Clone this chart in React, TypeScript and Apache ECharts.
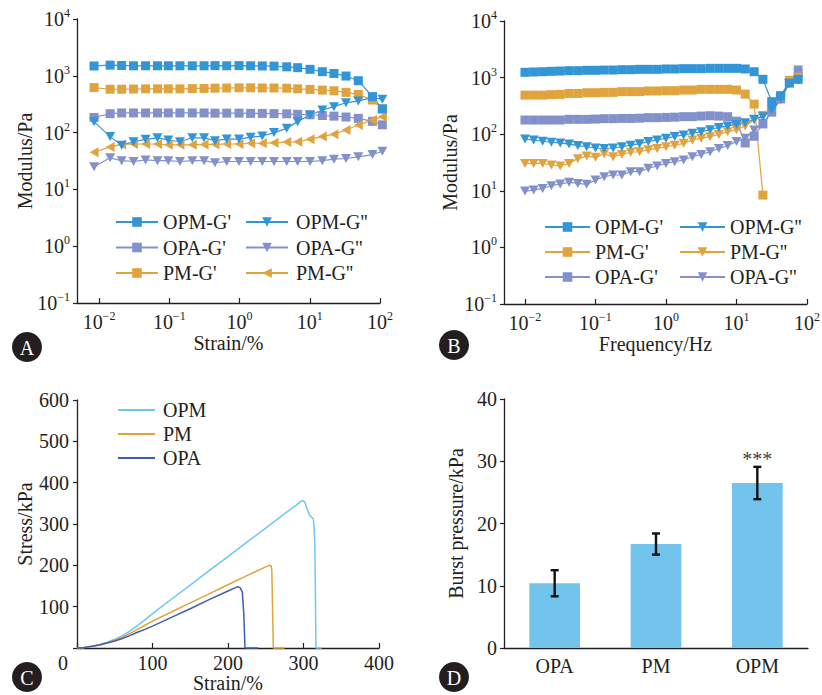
import { useEffect, useRef } from 'react';
import * as echarts from 'echarts';

const FONT = "'Liberation Serif', 'Times New Roman', serif";
const INK = '#231f20';
const C_OPM = '#3195d6';
const C_OPA = '#8391cb';
const C_PM = '#e1a33d';

// ---------- Panel A: strain sweep ----------
const A_STRAIN = [0.0085, 0.0144, 0.021, 0.031, 0.046, 0.068, 0.097, 0.142, 0.213, 0.313, 0.448, 0.658, 0.984, 1.44, 2.11, 3.1, 4.7, 6.73, 10.1, 15.1, 22.1, 32.8, 49.1, 78, 108];
const A_OPM_G1 = [1490, 1540, 1520, 1500, 1500, 1500, 1500, 1500, 1500, 1500, 1510, 1500, 1510, 1500, 1490, 1480, 1440, 1390, 1300, 1180, 1100, 990, 820, 430, 262];
const A_OPM_G2 = [156, 85, 60, 69, 76, 81, 74, 69, 81, 81, 72, 77, 77, 83, 87, 100, 119, 156, 204, 250, 286, 336, 359, 418, 385];
const A_OPA_G1 = [185, 215, 222, 222, 222, 222, 222, 222, 222, 222, 220, 220, 220, 218, 218, 216, 214, 210, 206, 200, 195, 188, 178, 158, 137];
const A_OPA_G2 = [25, 36, 32, 31, 33, 32, 32, 31, 32, 32, 29.5, 31, 31, 31, 31, 31, 31, 31, 31, 32, 34, 35, 37.5, 41, 47];
const A_PM_G1 = [620, 580, 580, 585, 590, 590, 590, 590, 595, 600, 605, 610, 615, 615, 610, 610, 605, 590, 575, 560, 545, 510, 470, 375, 260];
const A_PM_G2 = [45, 56, 62, 63, 63, 63, 61, 61, 61, 62, 62, 63, 63, 65, 65, 66, 68, 69, 76, 85, 94, 111, 136, 166, 190];

// ---------- Panel B: frequency sweep ----------
const B_FREQ = [0.01, 0.0133, 0.0178, 0.0237, 0.0316, 0.0422, 0.0562, 0.075, 0.1, 0.133, 0.178, 0.237, 0.316, 0.422, 0.562, 0.75, 1, 1.33, 1.78, 2.37, 3.16, 4.22, 5.62, 7.5, 10, 13.3, 17.8, 23.7, 31.6, 42.2, 56.2, 75];
const B_OPM_G1 = [1240, 1256, 1270, 1290, 1305, 1325, 1325, 1345, 1345, 1360, 1360, 1380, 1380, 1400, 1400, 1400, 1420, 1420, 1438, 1438, 1438, 1458, 1458, 1458, 1458, 1420, 1270, 932, 375, 480, 800, 930];
const B_OPM_G2 = [82, 79, 75, 72, 70, 67, 63, 60, 57, 56, 57, 60, 64, 68, 74, 79, 85, 91, 97, 104, 111, 120, 132, 140, 149, 160, 183, 204, 270, 430, 790, 900];
const B_PM_G1 = [490, 490, 490, 500, 505, 525, 525, 540, 540, 548, 548, 565, 565, 565, 580, 580, 587, 587, 603, 603, 620, 620, 620, 620, 603, 510, 340, 8.4];
const B_PM_G2 = [30.5, 30.5, 30.5, 28.6, 27.4, 30.5, 37, 41, 39, 45, 40, 44, 48, 49, 53, 56, 60, 64, 69, 79, 85, 90, 99, 111, 120, 140, 178, 215, 315, 460, 900, 1010];
const B_OPA_G1 = [178, 178, 178, 178, 178, 183, 183, 183, 185, 188, 188, 190, 190, 192, 196, 196, 198, 200, 204, 204, 209, 212, 209, 204, 170, 70, 92, 152, 245, 420, 830, 1250];
const B_OPA_G2 = [9.9, 10.3, 11, 12.3, 13.2, 14.1, 13.5, 13, 15.5, 17.8, 19, 19, 21.8, 21.8, 25, 27.4, 30.5, 32.7, 35, 40, 44, 49, 56, 63, 74, 85, 119, 156, 250, 402, 800, 1360];

// ---------- Panel C: stress-strain ----------
const OPM_STRAIN = [0, 10, 20, 30, 40, 50, 60, 70, 80, 90, 100, 125, 150, 175, 200, 225, 250, 275, 290, 296, 299, 302, 305, 308, 311, 313, 314, 315, 315.7, 316.5, 324];
const OPM_STRESS = [0, 1.5, 4.5, 8.5, 14, 21, 30, 41, 54, 68, 83, 118, 152, 187, 221, 256, 290, 325, 345, 354, 357, 352, 335, 322, 316, 312, 295, 250, 148, 0, 0];
const PM_STRAIN = [0, 10, 20, 30, 40, 50, 60, 70, 80, 90, 100, 125, 150, 175, 200, 225, 245, 252, 255, 257, 258, 259, 260, 275];
const PM_STRESS = [0, 1.5, 4.5, 8, 13, 19, 26, 35, 45, 55, 65, 87, 109, 131, 153, 175, 192, 198, 200, 199, 190, 100, 0, 0];
const OPA_STRAIN = [0, 10, 20, 30, 40, 50, 60, 70, 80, 90, 100, 125, 150, 175, 200, 210, 213, 216, 219, 221, 222.5, 240];
const OPA_STRESS = [0, 1.5, 4, 7.5, 12, 17, 23, 30, 38, 45, 53, 74, 95, 117, 138, 146, 148, 146, 135, 80, 0, 0];

// ---------- Panel D: burst pressure ----------
const GROUPS = ['OPA', 'PM', 'OPM'];
const BURST = [10.4, 16.7, 26.5];
const BURST_ERR = [2.1, 1.7, 2.6];
const SIG = ['', '', '***'];

const SQ = 'rect';
const TRI_DOWN = 'path://M0,0L10,0L5,9Z';
const TRI_LEFT = 'path://M9,0L9,10L0,5Z';

const supLabel = (v: number) => {
  const e = Math.round(Math.log10(v));
  return `{b|10}{s|${e < 0 ? '\u2212' + Math.abs(e) : e}}`;
};
const supRich = {
  b: { fontFamily: FONT, fontSize: 20, color: INK, lineHeight: 24 },
  s: { fontFamily: FONT, fontSize: 12, color: INK, verticalAlign: 'top', lineHeight: 14 },
};

const axisLine = { show: true, onZero: false, lineStyle: { color: INK, width: 1.3 } };
const label = { color: INK, fontFamily: FONT, fontSize: 20 };
const nameStyle = { color: INK, fontFamily: FONT, fontSize: 20 };

function modSeries(name: string, xs: number[], ys: number[], color: string, symbol: string, size: any, idx: number) {
  return {
    type: 'line',
    name,
    xAxisIndex: idx,
    yAxisIndex: idx,
    data: ys.map((y, i) => [xs[i], y]),
    symbol,
    symbolSize: size,
    showSymbol: true,
    lineStyle: { color, width: 1.2 },
    itemStyle: { color },
    clip: false,
    emphasis: { disabled: true },
  };
}

function curve(name: string, xs: number[], ys: number[], color: string) {
  return {
    type: 'line',
    name,
    xAxisIndex: 2,
    yAxisIndex: 2,
    data: xs.map((x, i) => [x, ys[i]]),
    symbol: 'none',
    lineStyle: { color, width: 1.5 },
    itemStyle: { color },
    clip: false,
    emphasis: { disabled: true },
  };
}

const legendText = { fontFamily: FONT, fontSize: 20, color: INK };

function badge(cx: number, cy: number, t: string) {
  return [
    { type: 'circle', shape: { cx, cy, r: 15 }, style: { fill: INK } },
    { type: 'text', x: cx, y: cy + 1, style: { text: t, fill: '#fff', font: `20px ${FONT}`, align: 'center', verticalAlign: 'middle' } },
  ];
}

export default function App() {
  const ref = useRef<HTMLDivElement>(null);
  useEffect(() => {
    if (!ref.current) return;
    const chart = echarts.init(ref.current, undefined, { renderer: 'svg' });
    const logX = (idx: number, min: number, name: string) => ({
      type: 'log',
      logBase: 10,
      gridIndex: idx,
      min,
      max: 100,
      axisLine,
      axisTick: { show: true, inside: true, length: 5, lineStyle: { color: INK, width: 1.2 } },
      splitLine: { show: false },
      minorTick: { show: false },
      axisLabel: { ...label, margin: 7, showMinLabel: false, formatter: supLabel, rich: supRich },
      name,
      nameLocation: 'middle',
      nameGap: 30,
      nameMoveOverlap: false,
      nameTextStyle: nameStyle,
    });
    const logY = (idx: number, gap: number) => ({
      type: 'log',
      logBase: 10,
      gridIndex: idx,
      min: 0.1,
      max: 10000,
      axisLine,
      axisTick: { show: true, inside: false, length: 4, lineStyle: { color: INK, width: 1.2 } },
      splitLine: { show: false },
      minorTick: { show: false },
      axisLabel: { ...label, margin: 7, formatter: supLabel, rich: supRich },
      name: 'Modulus/Pa',
      nameLocation: 'middle',
      nameGap: gap,
      nameMoveOverlap: false,
      nameTextStyle: nameStyle,
    });

    chart.setOption({
      animation: false,
      backgroundColor: '#ffffff',
      textStyle: { fontFamily: FONT },
      grid: [
        { left: 77, top: 19, width: 303, height: 284, containLabel: false, outerBoundsMode: 'none' },
        { left: 504, top: 21, width: 303, height: 283, containLabel: false, outerBoundsMode: 'none' },
        { left: 77, top: 400, width: 302, height: 248, containLabel: false, outerBoundsMode: 'none' },
        { left: 504, top: 399, width: 304, height: 249, containLabel: false, outerBoundsMode: 'none' },
      ],
      xAxis: [
        logX(0, 0.00486, 'Strain/%'),
        logX(1, 0.00504, 'Frequency/Hz'),
        {
          type: 'value', gridIndex: 2, min: 0, max: 400, interval: 100,
          axisLine,
          axisTick: { show: true, inside: true, length: 5, lineStyle: { color: INK, width: 1.2 } },
          splitLine: { show: false },
          axisLabel: {
            ...label, margin: 7, lineHeight: 16,
            formatter: (v: number) => (v === 0 ? '{z|0}' : String(v)),
            rich: { z: { fontFamily: FONT, fontSize: 20, color: INK, lineHeight: 16, padding: [0, 28, 0, 0] } },
          },
          name: 'Strain/%', nameLocation: 'middle', nameGap: 27, nameMoveOverlap: false,
          nameTextStyle: { ...nameStyle, lineHeight: 16 },
        },
        {
          type: 'category', gridIndex: 3, data: GROUPS,
          axisLine,
          axisTick: { show: false },
          splitLine: { show: false },
          axisLabel: { ...label, margin: 8 },
        },
      ],
      yAxis: [
        logY(0, 42),
        logY(1, 44),
        {
          type: 'value', gridIndex: 2, min: 0, max: 600, interval: 100,
          axisLine,
          axisTick: { show: true, inside: false, length: 4, lineStyle: { color: INK, width: 1.2 } },
          splitLine: { show: false },
          axisLabel: { ...label, margin: 8, formatter: (v: number) => (v === 0 ? '' : String(v)) },
          name: 'Stress/kPa', nameLocation: 'middle', nameGap: 42, nameMoveOverlap: false, nameTextStyle: nameStyle,
        },
        {
          type: 'value', gridIndex: 3, min: 0, max: 40, interval: 10,
          axisLine,
          axisTick: { show: true, inside: false, length: 4, lineStyle: { color: INK, width: 1.2 } },
          splitLine: { show: false },
          axisLabel: { ...label, margin: 7 },
          name: 'Burst pressure/kPa', nameLocation: 'middle', nameGap: 38, nameMoveOverlap: false, nameTextStyle: nameStyle,
        },
      ],
      legend: [
        { data: ["OPM-G'", "OPA-G'", "PM-G'"], left: 115, top: 212, orient: 'vertical', itemWidth: 42, itemHeight: 12, itemGap: 5.5, padding: 0, textStyle: legendText, selectedMode: false },
        { data: ["OPM-G''", "OPA-G''", "PM-G''"], left: 245, top: 212, orient: 'vertical', itemWidth: 42, itemHeight: 12, itemGap: 5.5, padding: 0, textStyle: { ...legendText, padding: [0, 0, 0, 3] }, selectedMode: false },
        { data: ["B|OPM-G'", "B|PM-G'", "B|OPA-G'"], left: 544, top: 217, orient: 'vertical', itemWidth: 45, itemHeight: 12, itemGap: 5, padding: 0, textStyle: legendText, selectedMode: false, formatter: (n: string) => n.replace('B|', '') },
        { data: ["B|OPM-G''", "B|PM-G''", "B|OPA-G''"], left: 679, top: 217, orient: 'vertical', itemWidth: 45, itemHeight: 12, itemGap: 5, padding: 0, textStyle: legendText, selectedMode: false, formatter: (n: string) => n.replace('B|', '') },
        { data: ['OPM', 'PM', 'OPA'], left: 118, top: 400, orient: 'vertical', icon: 'rect', itemWidth: 37, itemHeight: 2, itemGap: 4, padding: 0, textStyle: { ...legendText, padding: [0, 0, 0, 3] }, selectedMode: false },
      ],
      series: [
        modSeries("OPA-G''", A_STRAIN, A_OPA_G2, C_OPA, TRI_DOWN, [10, 9], 0),
        modSeries("OPA-G'", A_STRAIN, A_OPA_G1, C_OPA, SQ, 9, 0),
        modSeries("PM-G''", A_STRAIN, A_PM_G2, C_PM, TRI_LEFT, [9, 10], 0),
        modSeries("PM-G'", A_STRAIN, A_PM_G1, C_PM, SQ, 9, 0),
        modSeries("OPM-G''", A_STRAIN, A_OPM_G2, C_OPM, TRI_DOWN, [10, 9], 0),
        modSeries("OPM-G'", A_STRAIN, A_OPM_G1, C_OPM, SQ, 9, 0),

        modSeries("B|OPA-G''", B_FREQ, B_OPA_G2, C_OPA, TRI_DOWN, [10, 9], 1),
        modSeries("B|OPA-G'", B_FREQ, B_OPA_G1, C_OPA, SQ, 9, 1),
        modSeries("B|PM-G''", B_FREQ, B_PM_G2, C_PM, TRI_DOWN, [10, 9], 1),
        modSeries("B|PM-G'", B_FREQ, B_PM_G1, C_PM, SQ, 9, 1),
        modSeries("B|OPM-G''", B_FREQ, B_OPM_G2, C_OPM, TRI_DOWN, [10, 9], 1),
        modSeries("B|OPM-G'", B_FREQ, B_OPM_G1, C_OPM, SQ, 9, 1),

        curve('OPM', OPM_STRAIN, OPM_STRESS, '#6fc6ef'),
        curve('PM', PM_STRAIN, PM_STRESS, '#e1a33a'),
        curve('OPA', OPA_STRAIN, OPA_STRESS, '#3f5cb6'),

        {
          type: 'bar', name: 'Burst', xAxisIndex: 3, yAxisIndex: 3, data: BURST, barWidth: '50%',
          itemStyle: { color: '#73c4ec' }, emphasis: { disabled: true },
        },
        {
          type: 'custom', name: 'err', xAxisIndex: 3, yAxisIndex: 3,
          data: BURST.map((v, i) => [i, v - BURST_ERR[i], v + BURST_ERR[i]]),
          encode: { x: 0, y: [1, 2] },
          z: 10,
          renderItem: (params: any, api: any) => {
            const i = api.value(0);
            const lo = api.coord([i, api.value(1)]);
            const hi = api.coord([i, api.value(2)]);
            const w = 4;
            const style = { stroke: '#111', lineWidth: 2.4 };
            const children: any[] = [
              { type: 'line', shape: { x1: hi[0], y1: hi[1], x2: lo[0], y2: lo[1] }, style },
              { type: 'line', shape: { x1: hi[0] - w, y1: hi[1], x2: hi[0] + w, y2: hi[1] }, style },
              { type: 'line', shape: { x1: lo[0] - w, y1: lo[1], x2: lo[0] + w, y2: lo[1] }, style },
            ];
            const s = SIG[params.dataIndex];
            if (s) {
              children.push({
                type: 'text', x: hi[0], y: hi[1] - 8,
                style: { text: s, fill: '#444', font: `20px ${FONT}`, align: 'center', verticalAlign: 'middle' },
              });
            }
            return { type: 'group', children };
          },
        },
      ],
      graphic: [
        ...badge(27, 347, 'A'),
        ...badge(454, 345, 'B'),
        ...badge(27, 677, 'C'),
        ...badge(454, 677, 'D'),
      ],
    });
    return () => chart.dispose();
  }, []);
  return <div ref={ref} style={{ position: 'absolute', left: 0, top: 0, width: 822, height: 695, background: '#fff' }} />;
}
